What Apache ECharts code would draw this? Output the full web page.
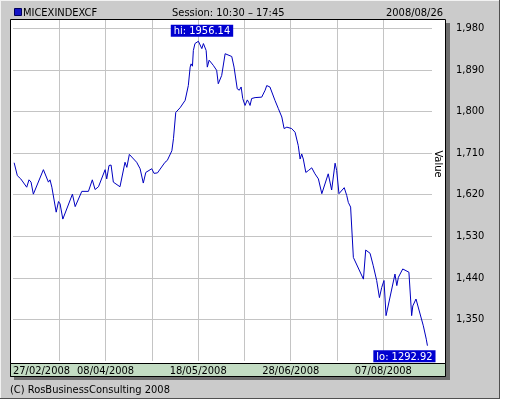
<!DOCTYPE html>
<html>
<head>
<meta charset="utf-8">
<script src="https://cdn.jsdelivr.net/npm/echarts@6/dist/echarts.min.js"></script>
<style>
html, body { margin: 0; padding: 0; background: #fff; }
#chart { width: 512px; height: 400px; }
</style>
</head>
<body>
<div id="chart"></div>
<script>
// x = days since 27/02/2008
const dayOffsets = [
  0.5, 1.9, 3.4, 6.0, 7.0, 7.9, 8.9, 13.3, 15.5, 16.2, 17.0, 18.9, 19.9, 20.6, 21.8,
  26.0, 27.2, 27.9, 30.1, 33.0, 34.7, 35.9, 37.4, 40.3, 41.0, 42.0, 42.9, 43.9, 46.8,
  49.0, 49.8, 50.9, 54.1, 55.6, 57.0, 58.1, 60.7, 61.7, 63.2, 66.5, 67.5, 68.3, 69.5,
  70.2, 71.2, 73.1, 75.3, 76.7, 77.5, 77.9, 78.5, 78.9, 79.6, 81.1, 81.8, 82.6, 83.3,
  84.0, 84.5, 85.0, 85.8, 87.6, 89.1, 89.8, 91.3, 92.8, 93.5, 95.7, 96.7, 98.1, 99.0,
  99.8, 100.5, 101.5, 102.5, 103.1, 103.7, 104.4, 105.9, 108.8, 110.3, 111.0, 112.4,
  114.6, 116.1, 117.6, 118.6, 119.8, 121.9, 123.4, 124.8, 125.6, 126.3, 127.0, 128.1,
  129.2, 130.7, 132.1, 133.6, 135.1, 137.9, 139.4, 140.9, 141.6, 142.6, 144.9, 146.0,
  146.7, 147.7, 148.9, 149.6, 153.3, 154.3, 156.2, 157.6, 159.1, 160.3, 161.3, 162.3,
  163.2, 167.1, 167.9, 168.6, 170.5, 173.2, 174.4, 174.9, 176.3, 179.5, 180.8, 181.3
];
const indexValues = [
  1689, 1661, 1654, 1636, 1652, 1647, 1621, 1674, 1647, 1652, 1636, 1582, 1605, 1600, 1567,
  1621, 1594, 1594, 1627, 1627, 1652, 1631, 1637, 1674, 1654, 1683, 1684, 1647, 1637,
  1690, 1679, 1707, 1690, 1676, 1645, 1668, 1676, 1666, 1667, 1690, 1694, 1690, 1715,
  1741, 1798, 1808, 1824, 1856, 1896, 1903, 1898, 1932, 1947, 1952, 1956.14, 1936, 1947,
  1950, 1932, 1896, 1911, 1900, 1889, 1860, 1878, 1925, 1925, 1919, 1896, 1849, 1846,
  1853, 1828, 1813, 1825, 1820, 1813, 1828, 1830, 1831, 1846, 1856, 1853,
  1824, 1806, 1788, 1763, 1766, 1763, 1755, 1726, 1697, 1708, 1697, 1668,
  1672, 1678, 1665, 1654, 1622, 1665, 1630, 1688, 1672, 1622, 1635, 1618,
  1603, 1593, 1484, 1481, 1437, 1500, 1493, 1466, 1434, 1397, 1419, 1434,
  1358, 1448, 1423, 1441, 1459, 1452, 1358, 1379, 1394, 1336, 1307, 1292.92
];
const dateLabels = ['27/02/2008', '08/04/2008', '18/05/2008', '28/06/2008', '07/08/2008'];

const FONT = '"Liberation Sans Narrow", "Arial Narrow", "DejaVu Sans Condensed", sans-serif';
const GRID_GRAY = '#c4c4c4';
const NONE = 'rgba(0,0,0,0)';

const chart = echarts.init(document.getElementById('chart'));

const option = {
  animation: false,
  backgroundColor: '#ffffff',
  textStyle: { fontFamily: FONT },
  graphic: [
    // outer panel
    { type: 'rect', z: -20, shape: { x: 0, y: 0, width: 500, height: 399 }, style: { fill: '#505050' } },
    { type: 'rect', z: -19, shape: { x: 0, y: 0, width: 499, height: 398 }, style: { fill: '#f2f2f2' } },
    { type: 'rect', z: -18, shape: { x: 1, y: 1, width: 498, height: 397 }, style: { fill: '#cbcbcb' } },
    // shadow
    { type: 'rect', z: -17, shape: { x: 14, y: 23, width: 436, height: 357 }, style: { fill: '#6e6e6e' } },
    // plot frame + date strip
    { type: 'rect', z: -16, shape: { x: 10.5, y: 19.5, width: 435, height: 357 }, style: { fill: '#ffffff', stroke: '#000', lineWidth: 1 } },
    { type: 'rect', z: -15, shape: { x: 10.5, y: 363.5, width: 435, height: 13 }, style: { fill: '#c3dcc3', stroke: '#000', lineWidth: 1 } },
    // header
    { type: 'rect', z: 10, shape: { x: 14.5, y: 8.5, width: 7, height: 7 }, style: { fill: '#1414c8', stroke: '#00005a', lineWidth: 1 } },
    { type: 'text', z: 10, style: { text: 'MICEXINDEXCF', x: 23, y: 13, font: '11px ' + FONT, fill: '#000', verticalAlign: 'middle' } },
    { type: 'text', z: 10, style: { text: 'Session: 10:30 \u2013 17:45', x: 172, y: 13, font: '11px ' + FONT, fill: '#000', verticalAlign: 'middle' } },
    { type: 'text', z: 10, style: { text: '2008/08/26', x: 386, y: 13, font: '11px ' + FONT, fill: '#000', verticalAlign: 'middle' } },
    { type: 'text', z: 10, style: { text: '(C) RosBusinessConsulting 2008', x: 10, y: 390, font: '11px ' + FONT, fill: '#000', verticalAlign: 'middle' } },
    { type: 'text', z: 10, x: 438, y: 164, rotation: -Math.PI / 2, style: { text: 'Value', x: 0, y: 0, font: '11px ' + FONT, fill: '#000', align: 'center', verticalAlign: 'middle' } }
  ],
  grid: { left: 13, right: 80, top: 20, bottom: 39.1, containLabel: false },
  xAxis: {
    type: 'value',
    min: 0,
    max: 183.3,
    interval: 20.25,
    axisLine: { show: false },
    axisTick: { show: false },
    splitLine: {
      show: true,
      lineStyle: { color: [NONE, GRID_GRAY, GRID_GRAY, GRID_GRAY, GRID_GRAY, GRID_GRAY, GRID_GRAY, GRID_GRAY, GRID_GRAY, NONE, NONE], width: 1 }
    },
    axisLabel: {
      margin: 5,
      color: '#000',
      fontSize: 11,
      fontFamily: FONT,
      alignMinLabel: 'left',
      showMaxLabel: false,
      formatter: function (val) {
        const k = val / 40.5;
        const r = Math.round(k);
        return Math.abs(k - r) < 0.01 && r < dateLabels.length ? dateLabels[r] : '';
      }
    }
  },
  yAxis: {
    type: 'value',
    position: 'right',
    min: 1260,
    max: 1998,
    interval: 90,
    axisLine: { show: false },
    axisTick: { show: false },
    splitLine: {
      show: true,
      lineStyle: { color: [NONE, GRID_GRAY, GRID_GRAY, GRID_GRAY, GRID_GRAY, GRID_GRAY, GRID_GRAY, GRID_GRAY, GRID_GRAY, NONE], width: 1 }
    },
    axisLabel: {
      margin: 24,
      color: '#000',
      fontSize: 11,
      fontFamily: FONT,
      showMinLabel: false,
      showMaxLabel: false
    }
  },
  series: [{
    type: 'line',
    data: dayOffsets.map((d, i) => [d, indexValues[i]]),
    showSymbol: false,
    symbol: 'none',
    lineStyle: { color: '#0000c0', width: 1 },
    markPoint: {
      symbol: 'circle',
      symbolSize: 1,
      itemStyle: { color: NONE },
      label: {
        show: true,
        color: '#fff',
        fontSize: 11,
        fontFamily: FONT,
        backgroundColor: '#0000d0',
        padding: [1, 3, 0, 3],
        lineHeight: 11
      },
      data: [
        { type: 'max', name: 'hi', label: { position: 'top', distance: 2, offset: [2, 0], formatter: p => 'hi: ' + p.value.toFixed(2) } },
        { type: 'min', name: 'lo', label: { position: 'bottom', distance: 4, offset: [-23, 0], formatter: p => 'lo: ' + p.value.toFixed(2) } }
      ]
    }
  }]
};

chart.setOption(option);
</script>
</body>
</html>
